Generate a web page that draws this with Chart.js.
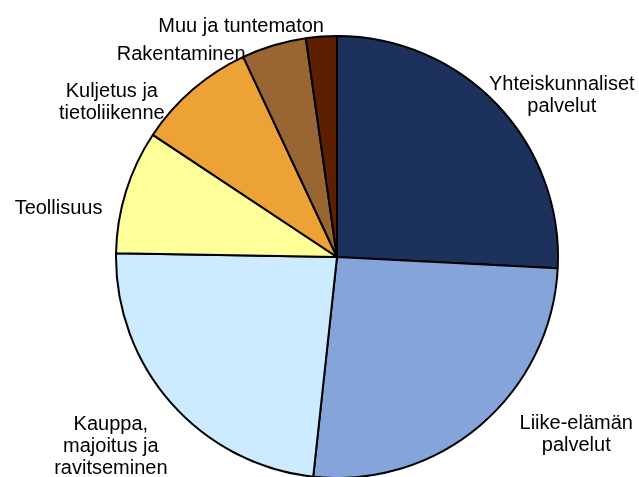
<!DOCTYPE html>
<html>
<head>
<meta charset="utf-8">
<script src="https://cdn.jsdelivr.net/npm/chart.js@4"></script>
<style>
  body { margin: 0; background: #fff; }
  canvas { display: block; }
</style>
</head>
<body>
<canvas id="pie" width="639" height="477"></canvas>
<script>
// Toimialat (labels split into lines as in the picture)
const sectorLabels = [
    ['Yhteiskunnaliset', 'palvelut'],
    ['Liike-elämän', 'palvelut'],
    ['Kauppa,', 'majoitus ja', 'ravitseminen'],
    ['Teollisuus'],
    ['Kuljetus ja', 'tietoliikenne'],
    ['Rakentaminen'],
    ['Muu ja tuntematon']
];
// Shares in percent
const sectorShares = [25.8, 25.9, 23.55, 9.05, 8.7, 4.72, 2.25];
const sectorColors = ['#1c325c', '#84a4da', '#cdebff', '#ffff99', '#eca234', '#996633', '#5c1f00'];

// label nudges relative to each slice: extra angle (deg) and distance beyond the rim (px)
const labelNudge = [
    { da: 7.5, dr: 57 },
    { da: -13.2, dr: 76 },
    { da: 1.7, dr: 73 },
    { da: -7, dr: 62 },
    { da: -14.5, dr: 53 },
    { da: -20.7, dr: 36 },
    { da: -18.4, dr: 30 }
];

const outsideLabels = {
    id: 'outsideLabels',
    afterDraw(chart) {
        const ctx = chart.ctx;
        const arcs = chart.getDatasetMeta(0).data;
        const size = 20;
        const lineHeight = 22;
        ctx.save();
        ctx.font = size + 'px "Liberation Sans", Arial, sans-serif';
        ctx.fillStyle = '#000';
        ctx.textAlign = 'center';
        ctx.textBaseline = 'alphabetic';
        arcs.forEach((arc, i) => {
            const mid = (arc.startAngle + arc.endAngle) / 2 + labelNudge[i].da * Math.PI / 180;
            const r = arc.outerRadius + labelNudge[i].dr;
            const cx = arc.x + r * Math.cos(mid);
            const cy = arc.y + r * Math.sin(mid);
            const lines = sectorLabels[i];
            const top = cy - (lines.length - 1) * lineHeight / 2;
            lines.forEach((line, j) => {
                ctx.fillText(line, cx, top + j * lineHeight + size * 0.358);
            });
        });
        ctx.restore();
    }
};

new Chart('pie', {
    type: 'pie',
    data: {
        labels: sectorLabels.map(l => l.join(' ')),
        datasets: [{
            data: sectorShares,
            backgroundColor: sectorColors,
            borderColor: '#000',
            borderWidth: 2
        }]
    },
    options: {
        responsive: false,
        animation: false,
        radius: 221,
        layout: { padding: { left: 35, right: 0, top: 37, bottom: 0 } },
        plugins: {
            legend: { display: false },
            tooltip: { enabled: false }
        }
    },
    plugins: [outsideLabels]
});
</script>
</body>
</html>
